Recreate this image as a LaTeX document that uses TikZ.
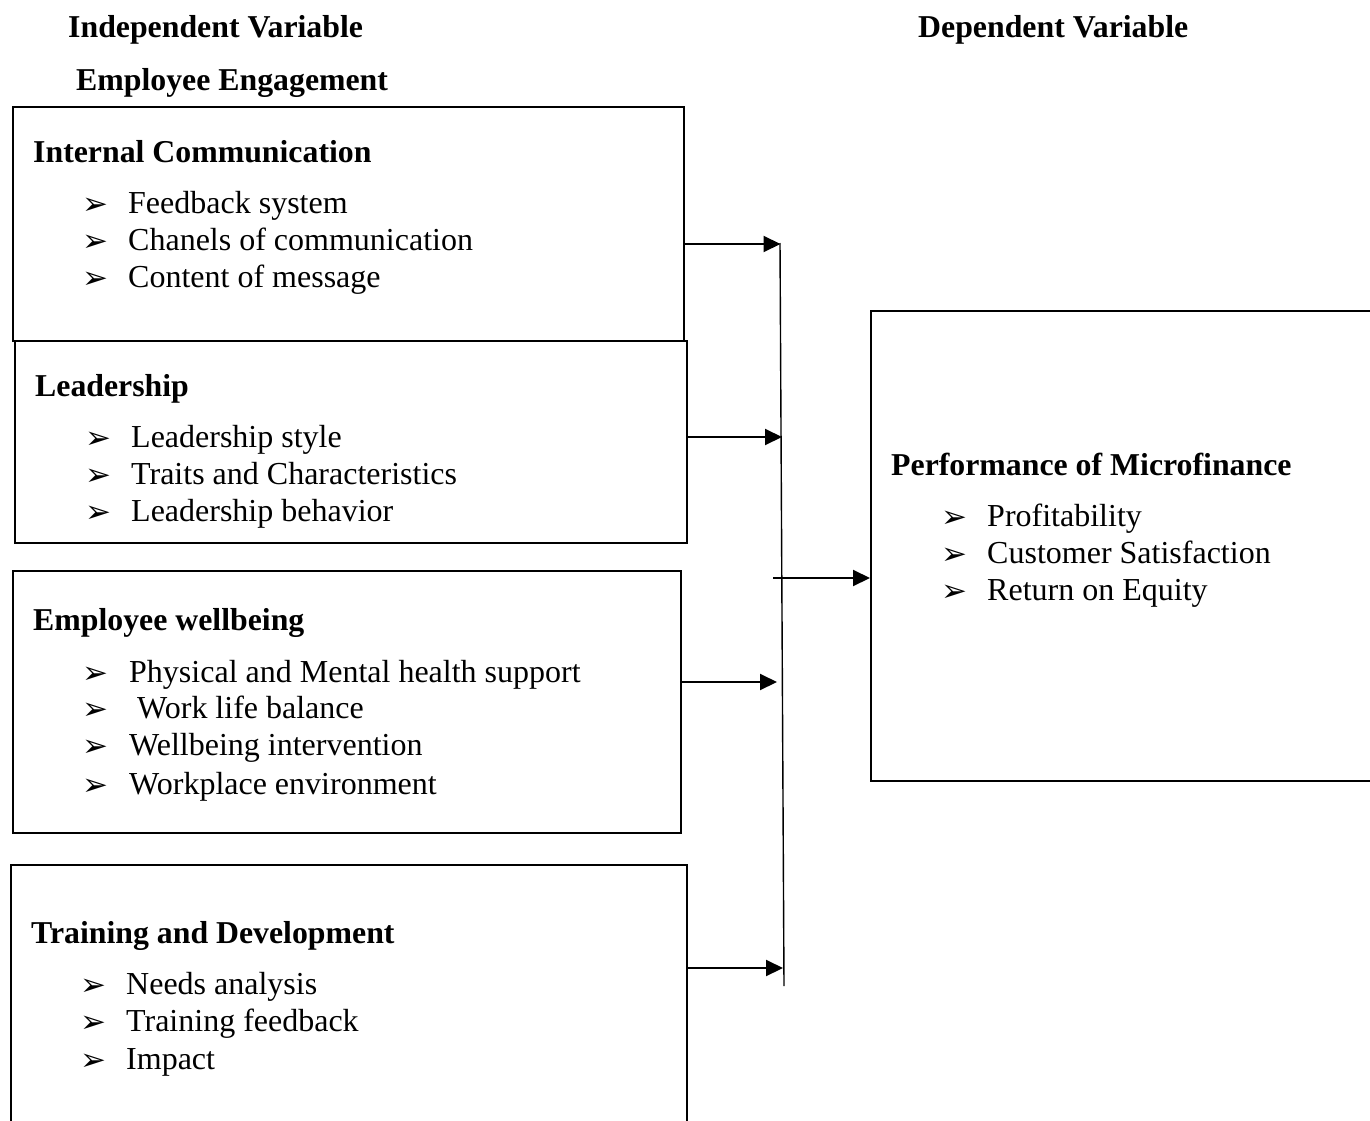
\documentclass[tikz,border=0pt]{standalone}
\usepackage{fontspec}
\setmainfont{Liberation Serif}
\newfontfamily\symfont{DejaVu Sans}
\usetikzlibrary{arrows.meta}
\tikzset{
  box/.style={draw, line width=2.2pt, anchor=north west, inner sep=0pt},
  head/.style={anchor=base west, inner sep=0pt, font=\fontsize{31.8}{36}\selectfont\bfseries},
  itm/.style={anchor=base west, inner sep=0pt, font=\fontsize{32}{36}\selectfont},
  bul/.style={anchor=base west, inner sep=0pt, font=\fontsize{31}{36}\selectfont\symfont},
  arr/.style={line width=2pt, -{Triangle[length=17pt,width=16pt]}},
  bus/.style={line width=1.4pt}
}
\begin{document}
\begin{tikzpicture}[x=1pt,y=-1pt]
\useasboundingbox[fill=white] (0,0) rectangle (1370,1121);
% titles
\node[head] (iv) at (68,38) {Independent Variable};
\node[head] (dv) at (918,38) {Dependent Variable};
\node[head] (ee) at (76,91) {Employee Engagement};
% boxes
\node[box, minimum width=671pt, minimum height=234pt] (b1) at (12,106) {};
\node[box, minimum width=672pt, minimum height=202pt] (b2) at (14,340) {};
\node[box, minimum width=668pt, minimum height=262pt] (b3) at (12,570) {};
\node[box, minimum width=676pt, minimum height=300pt] (b4) at (10,864) {};
\node[box, minimum width=560pt, minimum height=470pt] (b5) at (870,310) {};
% box 1
\node[head] (h1) at (33,162) {Internal Communication};
\node[bul] (p11) at (82,214) {➢};\node[itm] (t11) at (128,213) {Feedback system};
\node[bul] (p12) at (82,251) {➢};\node[itm] (t12) at (128,250) {Chanels of communication};
\node[bul] (p13) at (82,288) {➢};\node[itm] (t13) at (128,287) {Content of message};
% box 2
\node[head] (h2) at (35,396) {Leadership};
\node[bul] (p21) at (85,448) {➢};\node[itm] (t21) at (131,447) {Leadership style};
\node[bul] (p22) at (85,485) {➢};\node[itm] (t22) at (131,484) {Traits and Characteristics};
\node[bul] (p23) at (85,522) {➢};\node[itm] (t23) at (131,521) {Leadership behavior};
% box 3
\node[head] (h3) at (33,630) {Employee wellbeing};
\node[bul] (p31) at (82,683) {➢};\node[itm] (t31) at (129,682) {Physical and Mental health support};
\node[bul] (p32) at (82,719) {➢};\node[itm] (t32) at (137,718) {Work life balance};
\node[bul] (p33) at (82,756) {➢};\node[itm] (t33) at (129,755) {Wellbeing intervention};
\node[bul] (p34) at (82,795) {➢};\node[itm] (t34) at (129,794) {Workplace environment};
% box 4
\node[head] (h4) at (31,943) {Training and Development};
\node[bul] (p41) at (80,995) {➢};\node[itm] (t41) at (126,994) {Needs analysis};
\node[bul] (p42) at (80,1032) {➢};\node[itm] (t42) at (126,1031) {Training feedback};
\node[bul] (p43) at (80,1070) {➢};\node[itm] (t43) at (126,1069) {Impact};
% box 5
\node[head] (h5) at (891,475) {Performance of Microfinance};
\node[bul] (p51) at (941,527) {➢};\node[itm] (t51) at (987,526) {Profitability};
\node[bul] (p52) at (941,564) {➢};\node[itm] (t52) at (987,563) {Customer Satisfaction};
\node[bul] (p53) at (941,601) {➢};\node[itm] (t53) at (987,600) {Return on Equity};
% bus line
\coordinate (bt) at (780,243);
\coordinate (bb) at (784,986);
\draw[bus] (bt) -- (bb);
\coordinate (e1) at (780.5,244);
\coordinate (e2) at (782,437);
\coordinate (e3) at (777,682);
\coordinate (e4) at (783,968);
\coordinate (s5) at (773,578);
\draw[arr] (b1.east |- e1) -- (e1);
\draw[arr] (b2.east |- e2) -- (e2);
\draw[arr] (b3.east |- e3) -- (e3);
\draw[arr] (b4.east |- e4) -- (e4);
\draw[arr] (s5) -- (b5.west |- s5);
\end{tikzpicture}
\end{document}
